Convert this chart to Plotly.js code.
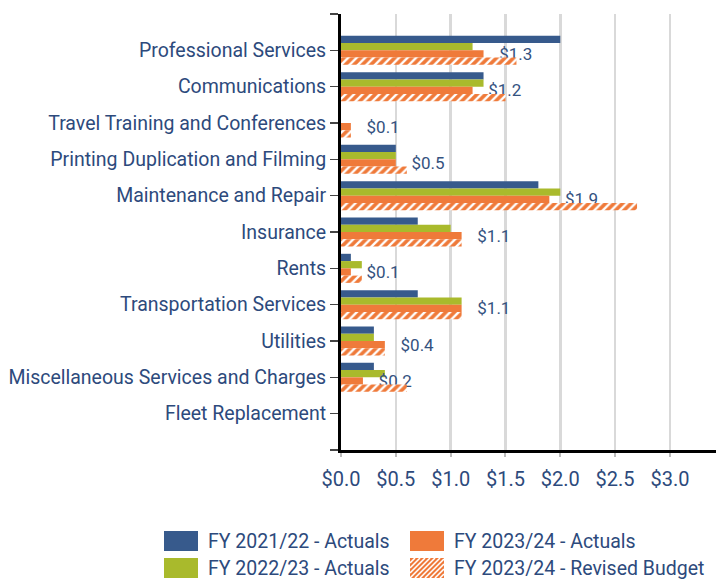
<!DOCTYPE html>
<html>
<head>
<meta charset="utf-8">
<script src="https://cdn.plot.ly/plotly-3.0.1.min.js"></script>
<style>html,body{margin:0;padding:0;background:#fff;}#chart{width:716px;height:580px;}</style>
</head>
<body>
<div id="chart"></div>
<script>
const categories = ['Professional Services','Communications','Travel Training and Conferences','Printing Duplication and Filming','Maintenance and Repair','Insurance','Rents','Transportation Services','Utilities','Miscellaneous Services and Charges','Fleet Replacement'];
const seriesNames = ['FY 2021/22 - Actuals','FY 2022/23 - Actuals','FY 2023/24 - Actuals','FY 2023/24 - Revised Budget'];
const fy2122 = [2.0,1.3,0,0.5,1.8,0.7,0.09,0.7,0.3,0.3,0];
const fy2223 = [1.2,1.3,0,0.5,2.0,1.0,0.19,1.1,0.3,0.4,0];
const fy2324 = [1.3,1.2,0.09,0.5,1.9,1.1,0.09,1.1,0.4,0.2,0];
const fy2324b = [1.6,1.5,0.09,0.6,2.7,1.1,0.19,1.1,0.4,0.6,0];
const xTickVals = [0,0.5,1,1.5,2,2.5,3];
const xTickText = xTickVals.map(v=>'$'+v.toFixed(1));

const BLUE='#375a8c', GREEN='#a9ba2c', ORANGE='#ef7a3a', TXT='#2d4a7c';
const FONT='Roboto, "Noto Sans", sans-serif';
const yPos = categories.map((c,i)=>i+1);

const L=341, R=0, T=14, B=130, W=716, H=580;
const PW=W-L-R, PH=H-T-B;
const px=x=>(x-L)/PW, py=y=>(H-B-y)/PH;

const labels = fy2324.map(v=> v>0 ? '\u00a0\u00a0\u00a0$'+v.toFixed(1) : '');

const traces = [
  {type:'bar', orientation:'h', name:seriesNames[0], x:fy2122, y:yPos, marker:{color:BLUE}, showlegend:false, hoverinfo:'x'},
  {type:'bar', orientation:'h', name:seriesNames[1], x:fy2223, y:yPos, marker:{color:GREEN}, showlegend:false, hoverinfo:'x'},
  {type:'bar', orientation:'h', name:seriesNames[2], x:fy2324, y:yPos, marker:{color:ORANGE}, showlegend:false,
   text:labels, textposition:'outside', cliponaxis:false, constraintext:'none',
   textfont:{family:FONT, size:17, color:'#34527f'}, hoverinfo:'x'},
  {type:'bar', orientation:'h', name:seriesNames[3], x:fy2324b, y:yPos,
   marker:{color:ORANGE, pattern:{shape:'/', fgcolor:'#ffffff', bgcolor:ORANGE, size:6, solidity:0.4}},
   showlegend:false, hoverinfo:'x'}
];

// custom legend
const shapes=[], annotations=[];
const legendItems = [
  {x0:164, y0:531, color:BLUE, name:seriesNames[0]},
  {x0:164, y0:558, color:GREEN, name:seriesNames[1]},
  {x0:410, y0:531, color:ORANGE, name:seriesNames[2]},
  {x0:410, y0:558, color:ORANGE, name:seriesNames[3], hatch:true}
];
legendItems.forEach(it=>{
  const x1=it.x0+34, y1=it.y0+20;
  shapes.push({type:'rect', xref:'paper', yref:'paper', x0:px(it.x0), x1:px(x1), y0:py(y1), y1:py(it.y0),
    fillcolor:it.color, line:{width:0}});
  if(it.hatch){
    const h=20, p=5;
    for(let c=it.x0-h; c<x1; c+=p){
      const tmin=Math.max(0,(it.x0-c)/h), tmax=Math.min(1,(x1-c)/h);
      if(tmin<tmax){
        shapes.push({type:'line', xref:'paper', yref:'paper',
          x0:px(c+tmin*h), y0:py(y1-tmin*h), x1:px(c+tmax*h), y1:py(y1-tmax*h),
          line:{color:'#ffffff', width:1.6}});
      }
    }
  }
  annotations.push({xref:'paper', yref:'paper', x:px(it.x0+42), y:py(it.y0+10), xanchor:'left', yanchor:'middle',
    text:it.name, showarrow:false, font:{family:FONT, size:19.5, color:TXT}});
});

const layout = {
  width:W, height:H,
  margin:{l:L, r:R, t:T, b:B, pad:0},
  paper_bgcolor:'#ffffff', plot_bgcolor:'#ffffff',
  barmode:'group', bargap:0.2, bargroupgap:0,
  showlegend:false,
  font:{family:FONT, color:TXT},
  xaxis:{range:[0,3.42], tickmode:'array', tickvals:xTickVals, ticktext:xTickText,
    showgrid:true, gridcolor:'#d9d9d9', gridwidth:2.5, zeroline:false,
    showline:true, linecolor:'#000000', linewidth:3,
    ticks:'outside', ticklen:4, tickwidth:2, tickcolor:'#bbbbbb', ticklabelstandoff:5,
    tickfont:{family:FONT, size:20, color:TXT}, fixedrange:true},
  yaxis:{range:[12,0], tickmode:'array', tickvals:[0].concat(yPos,[12]), ticktext:[''].concat(categories,['']),
    showgrid:false, zeroline:false, showline:true, linecolor:'#000000', linewidth:3,
    ticks:'outside', ticklen:8, tickwidth:1.5, tickcolor:'#444444',
    tickfont:{family:FONT, size:19.5, color:TXT}, fixedrange:true},
  shapes:shapes, annotations:annotations
};

Plotly.newPlot('chart', traces, layout, {displayModeBar:false, staticPlot:true});
</script>
</body>
</html>
